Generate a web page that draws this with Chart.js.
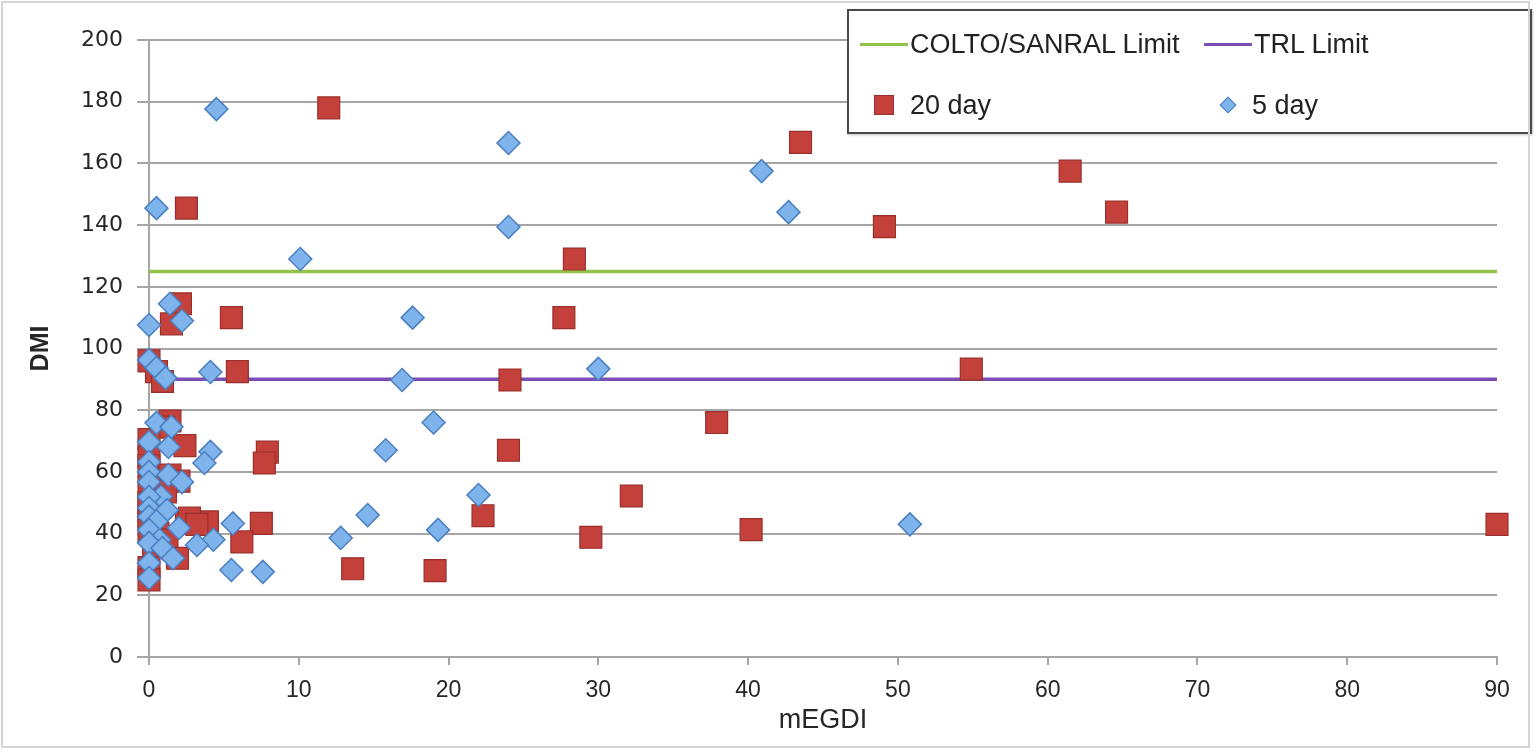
<!DOCTYPE html>
<html>
<head>
<meta charset="utf-8">
<script src="https://cdn.jsdelivr.net/npm/chart.js@4.4.1/dist/chart.umd.min.js"></script>
<style>
  html, body { margin: 0; padding: 0; background: #ffffff; }
  #wrap { position: relative; width: 1534px; height: 753px; overflow: hidden; }
  #frame { position: absolute; left: 1px; top: 1px; width: 1529px; height: 747px; border: 2px solid #d4d4d4; box-sizing: border-box; pointer-events: none; }
  canvas { position: absolute; left: 0; top: 0; }
  #legend { position: absolute; left: 847px; top: 9px; width: 685px; height: 125px; box-sizing: border-box;
            border: 2px solid #4a4a4a; background: #ffffff; font-family: "Liberation Sans", Arial, sans-serif;
            font-size: 27px; color: #222222; box-shadow: 1px 1px 2px rgba(0,0,0,0.25); }
  .item { position: absolute; display: flex; align-items: center; height: 40px; }
  .swline { width: 48px; height: 3px; margin-right: 2px; }
  .swsq { width: 20px; height: 20px; margin-left: 14px; margin-right: 16px; box-sizing: border-box; }
  .swdia { width: 12px; height: 12px; transform: rotate(45deg); margin-left: 18px; margin-right: 18px; box-sizing: border-box; }
</style>
</head>
<body>
<div id="wrap">
  <canvas id="c" width="1534" height="753"></canvas>
  <div id="legend"></div>
  <div id="frame"></div>
</div>
<script>
// ---- data ----
const xTickValues = [0, 10, 20, 30, 40, 50, 60, 70, 80, 90];
const yTickValues = [0, 20, 40, 60, 80, 100, 120, 140, 160, 180, 200];
const xAxisTitle = "mEGDI";
const yAxisTitle = "DMI";

const seriesNames = ["COLTO/SANRAL Limit", "TRL Limit", "20 day", "5 day"];

const coltoLimit = [[0, 125], [90, 125]];
const trlLimit = [[0, 90], [90, 90]];

const day20Points = [
  [12.0, 178], [2.5, 145.5], [43.5, 166.8], [61.5, 157.5], [64.6, 144.2], [49.1, 139.5],
  [28.4, 129], [2.1, 114.5], [1.5, 108], [5.5, 110], [27.7, 110], [5.9, 92.5],
  [24.1, 89.8], [54.9, 93.3], [37.9, 76], [24.0, 67], [7.9, 66.4], [7.7, 62.9],
  [32.2, 52.2], [22.3, 45.8], [7.5, 43.3], [3.9, 43.8], [2.5, 44.4], [40.2, 41.3],
  [90, 43], [29.5, 38.8], [6.2, 37.3], [13.6, 28.6], [19.1, 28],
  [0, 96], [0.5, 92.5], [0.9, 89.3], [1.4, 76.5], [1.0, 74.5], [0, 70.5], [2.4, 68.5],
  [0, 64.8], [0, 62], [1.4, 59], [2.0, 57], [0, 55], [1.1, 53.5], [0, 50], [0, 48.5],
  [0, 45], [2.7, 45], [3.2, 43], [0, 41], [0.6, 40], [1.2, 38], [0.3, 36], [1.9, 32],
  [0, 29], [0, 25]
];

const day5Points = [
  [4.5, 177.6], [0.5, 145.5], [24, 166.6], [24, 139.4], [40.9, 157.5], [42.7, 144.2],
  [10.1, 129], [17.6, 110], [30, 93.4], [16.9, 89.8], [19, 76], [15.8, 67],
  [22, 52.5], [14.6, 46], [12.8, 38.6], [19.3, 41.2], [50.8, 43], [5.5, 28.2],
  [7.6, 27.6], [4.1, 92.4], [4.1, 66.5], [3.7, 62.9], [5.6, 43.3], [4.3, 38],
  [3.2, 36.3], [1.4, 114.5], [2.2, 109], [0, 107.6],
  [0, 96.3], [0.5, 93.7], [1.1, 90.4], [0.5, 75.9], [1.5, 74.6], [0, 69.7], [1.3, 68.1],
  [0, 63.2], [0, 60], [1.3, 59], [2.2, 56.7], [0, 56.7], [0.8, 52], [0, 51.9], [0, 48.3],
  [1.2, 47.6], [0, 45.5], [0.5, 44], [2.0, 41.8], [0, 41.2], [0.7, 37.9], [0, 37],
  [0.9, 35.3], [1.6, 32], [0, 30.5], [0, 25.6]
];

// ---- styles ----
const COL_GREEN = "#93c24b";
const COL_PURPLE = "#7a4fb3";
const COL_RED = "#c4403a";
const COL_RED_BORDER = "#9a2f2b";
const COL_BLUE = "#7fb3ec";
const COL_BLUE_BORDER = "#4b7fc0";
const COL_GRID = "#a6a6a6";

const toXY = arr => arr.map(p => ({ x: p[0], y: p[1] }));

const ctx = document.getElementById("c").getContext("2d");
new Chart(ctx, {
  type: "scatter",
  data: {
    datasets: [
      { label: seriesNames[3], data: toXY(day5Points), pointStyle: "rectRot", pointRadius: 11.5, clip: false,
        backgroundColor: COL_BLUE, borderColor: COL_BLUE_BORDER, borderWidth: 1.5, pointHoverRadius: 11.5 },
      { label: seriesNames[2], data: toXY(day20Points), pointStyle: "rect", pointRadius: 15.5, clip: false,
        backgroundColor: COL_RED, borderColor: COL_RED_BORDER, borderWidth: 1.2, pointHoverRadius: 15.5 },
      { label: seriesNames[1], data: toXY(trlLimit), showLine: true, pointRadius: 0, borderColor: COL_PURPLE,
        borderWidth: 3.5, backgroundColor: COL_PURPLE },
      { label: seriesNames[0], data: toXY(coltoLimit), showLine: true, pointRadius: 0, borderColor: COL_GREEN,
        borderWidth: 3.5, backgroundColor: COL_GREEN }
    ]
  },
  options: {
    responsive: false,
    animation: false,
    layout: { padding: { left: 0, right: 37, top: 40, bottom: 0 } },
    plugins: {
      legend: { display: false },
      tooltip: { enabled: false }
    },
    scales: {
      x: {
        type: "linear", min: 0, max: 90,
        afterBuildTicks: s => { s.ticks = xTickValues.map(v => ({ value: v })); },
        afterFit: s => { s.height = 96; },
        grid: { drawOnChartArea: false, drawTicks: true, tickLength: 8, color: COL_GRID, lineWidth: 2 },
        border: { display: true, color: COL_GRID, width: 2 },
        ticks: { color: "#262626", padding: 12, maxRotation: 0, font: { family: "Liberation Sans", size: 23 } },
        title: { display: true, text: xAxisTitle, color: "#262626", padding: { top: 4, bottom: 16 },
                 font: { family: "Liberation Sans", size: 27 } }
      },
      y: {
        type: "linear", min: 0, max: 200,
        afterBuildTicks: s => { s.ticks = yTickValues.map(v => ({ value: v })); },
        afterFit: s => { s.width = 149; },
        grid: { drawOnChartArea: true, drawTicks: true, tickLength: 12, color: COL_GRID, lineWidth: 2 },
        border: { display: true, color: COL_GRID, width: 2 },
        ticks: { color: "#262626", padding: 14, font: { family: "DejaVu Sans", size: 22 } },
        title: { display: true, text: yAxisTitle, color: "#262626", padding: { top: 26, bottom: 0 },
                 font: { family: "Liberation Sans", size: 25, weight: "bold" } }
      }
    }
  }
});

// ---- legend (HTML, real text) ----
const legend = document.getElementById("legend");
const legendItems = [
  { name: seriesNames[0], kind: "line", color: COL_GREEN, left: 11, top: 33 },
  { name: seriesNames[1], kind: "line", color: COL_PURPLE, left: 355, top: 33 },
  { name: seriesNames[2], kind: "sq", color: COL_RED, border: COL_RED_BORDER, left: 11, top: 94 },
  { name: seriesNames[3], kind: "dia", color: COL_BLUE, border: COL_BLUE_BORDER, left: 355, top: 94 }
];
legendItems.forEach(it => {
  const d = document.createElement("div");
  d.className = "item";
  d.style.left = it.left + "px";
  d.style.top = (it.top - 20) + "px";
  const sw = document.createElement("div");
  if (it.kind === "line") { sw.className = "swline"; sw.style.background = it.color; }
  else if (it.kind === "sq") { sw.className = "swsq"; sw.style.background = it.color; sw.style.border = "1px solid " + it.border; }
  else { sw.className = "swdia"; sw.style.background = it.color; sw.style.border = "1.5px solid " + it.border; }
  const t = document.createElement("span");
  t.textContent = it.name;
  d.appendChild(sw); d.appendChild(t);
  legend.appendChild(d);
});
</script>
</body>
</html>
